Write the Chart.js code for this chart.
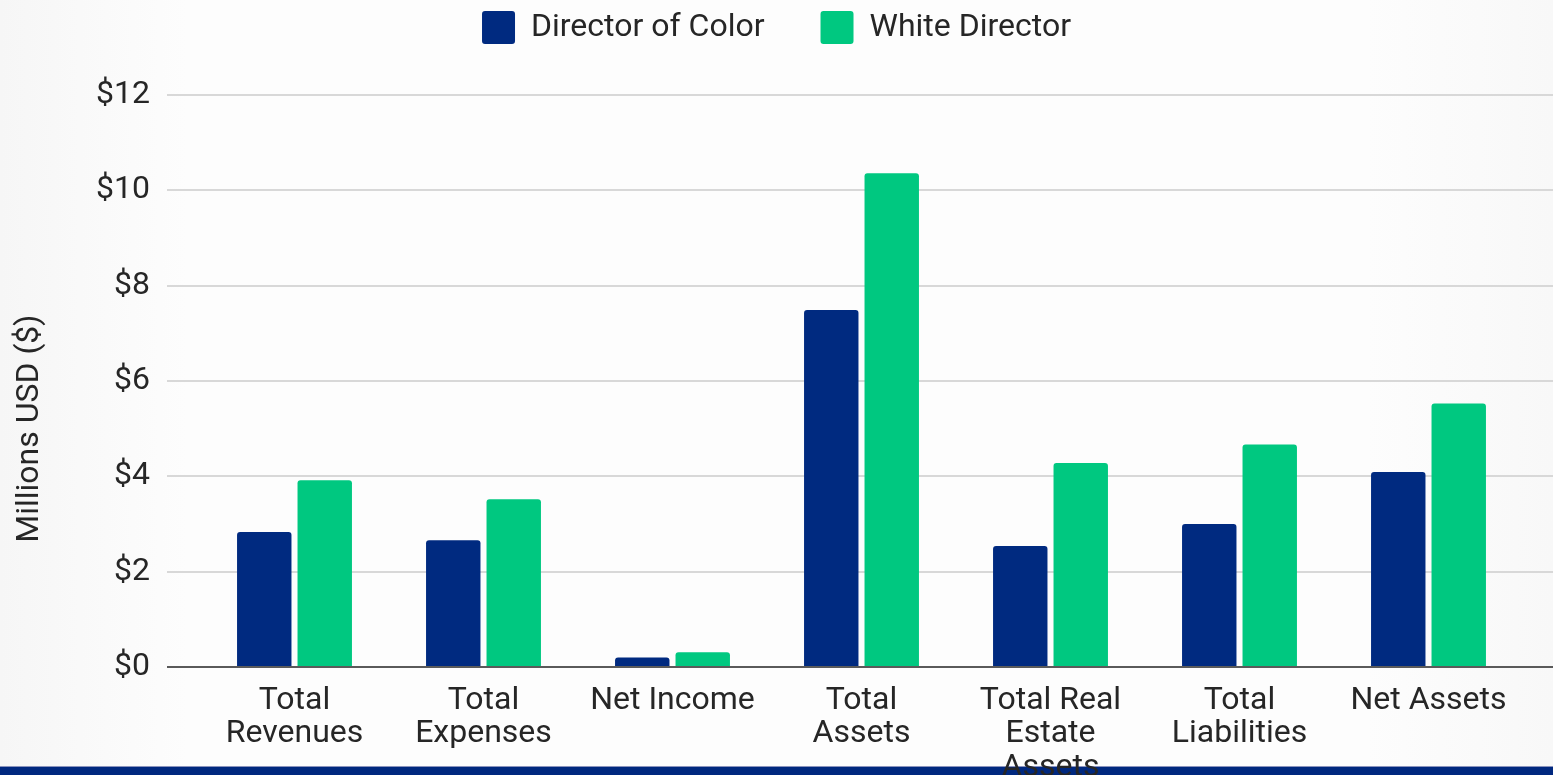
<!DOCTYPE html>
<html lang="en-US">
<head>
  <meta charset="utf-8">
  <title>Director of Color vs White Director</title>
  <script src="https://cdn.jsdelivr.net/npm/chart.js@4.4.1/dist/chart.umd.min.js"></script>
  <style>
    html, body { margin: 0; padding: 0; }
    body {
      width: 1553px; height: 775px; overflow: hidden; position: relative;
      background: linear-gradient(to right, #f6f6f6, #fdfdfd 12%, #fdfdfd 88%, #f8f8f8);
    }
    .footer { position: absolute; left: 0; bottom: 0; width: 100%; height: 8px; background: #00287f; border-top: 1px solid #8a93bd; }
    #chart { position: absolute; left: 0; top: 0; z-index: 2; }
  </style>
</head>
<body>
  <div class="footer"></div>
  <canvas id="chart" width="1553" height="775"></canvas>

  <script>
    // values in millions of USD
    let categories = [
      ['Total', 'Revenues'],
      ['Total', 'Expenses'],
      'Net Income',
      ['Total', 'Assets'],
      ['Total Real', 'Estate', 'Assets'],
      ['Total', 'Liabilities'],
      'Net Assets'
    ];
    let directorOfColor = [2.83, 2.66, 0.20, 7.49, 2.54, 3.00, 4.09];
    let whiteDirector = [3.92, 3.52, 0.31, 10.36, 4.28, 4.67, 5.53];
    let yTicks = [0, 2, 4, 6, 8, 10, 12];

    let textColor = '#262626';
    let font = {family: 'Roboto', size: 32};

    function gridColor(ctx) {
      return ctx.tick && ctx.tick.value === 0 ? '#5a5a5a' : '#d8d8d8';
    }

    // push the plot area down below the legend
    let legendGap = {
      id: 'legendGap',
      beforeInit(chart) {
        let fit = chart.legend.fit;
        chart.legend.fit = function () {
          fit.call(this);
          this.height += 41;
        };
      }
    };

    Chart.defaults.font.family = 'Roboto';
    Chart.defaults.color = textColor;

    let chart = new Chart('chart', {
      type: 'bar',
      data: {
        labels: categories,
        datasets: [
          {
            label: 'Director of Color',
            data: directorOfColor,
            backgroundColor: '#002a80',
            borderRadius: 3,
            categoryPercentage: 0.64,
            barPercentage: 0.9
          },
          {
            label: 'White Director',
            data: whiteDirector,
            backgroundColor: '#00c880',
            borderRadius: 3,
            categoryPercentage: 0.64,
            barPercentage: 0.9
          }
        ]
      },
      options: {
        responsive: false,
        animation: false,
        devicePixelRatio: 1,
        layout: {padding: {top: -45, left: 0, right: 0, bottom: 0}},
        plugins: {
          legend: {
            position: 'top',
            labels: {
              font: font,
              color: textColor,
              boxWidth: 33,
              boxHeight: 33,
              padding: 56,
              useBorderRadius: true,
              borderRadius: 3
            }
          },
          tooltip: {enabled: false}
        },
        scales: {
          x: {
            grid: {display: false, drawTicks: false},
            border: {display: false},
            ticks: {
              font: {family: 'Roboto', size: 32, lineHeight: 1.05},
              color: textColor,
              padding: 17,
              maxRotation: 0,
              autoSkip: false
            },
            afterFit(scale) { scale.height = 108; }
          },
          y: {
            position: 'left',
            min: 0,
            max: 12,
            afterBuildTicks(scale) { scale.ticks = yTicks.map(v => ({value: v})); },
            grid: {color: gridColor, tickColor: gridColor, lineWidth: 2, tickLength: 33},
            border: {display: false},
            ticks: {
              font: font,
              color: textColor,
              padding: 17,
              callback: v => '$' + v
            },
            title: {
              display: true,
              text: 'Millions USD ($)' + ' '.repeat(12),
              font: font,
              color: textColor,
              padding: {top: 11, bottom: 0}
            },
            afterFit(scale) { scale.width = 200; }
          },
          y2: {
            position: 'right',
            min: 0,
            max: 12,
            afterBuildTicks(scale) { scale.ticks = yTicks.map(v => ({value: v})); },
            grid: {drawOnChartArea: false, color: gridColor, tickColor: gridColor, lineWidth: 2, tickLength: 30},
            border: {display: false},
            ticks: {display: false},
            afterFit(scale) { scale.width = 30; }
          }
        }
      },
      plugins: [legendGap]
    });
  </script>
</body>
</html>
